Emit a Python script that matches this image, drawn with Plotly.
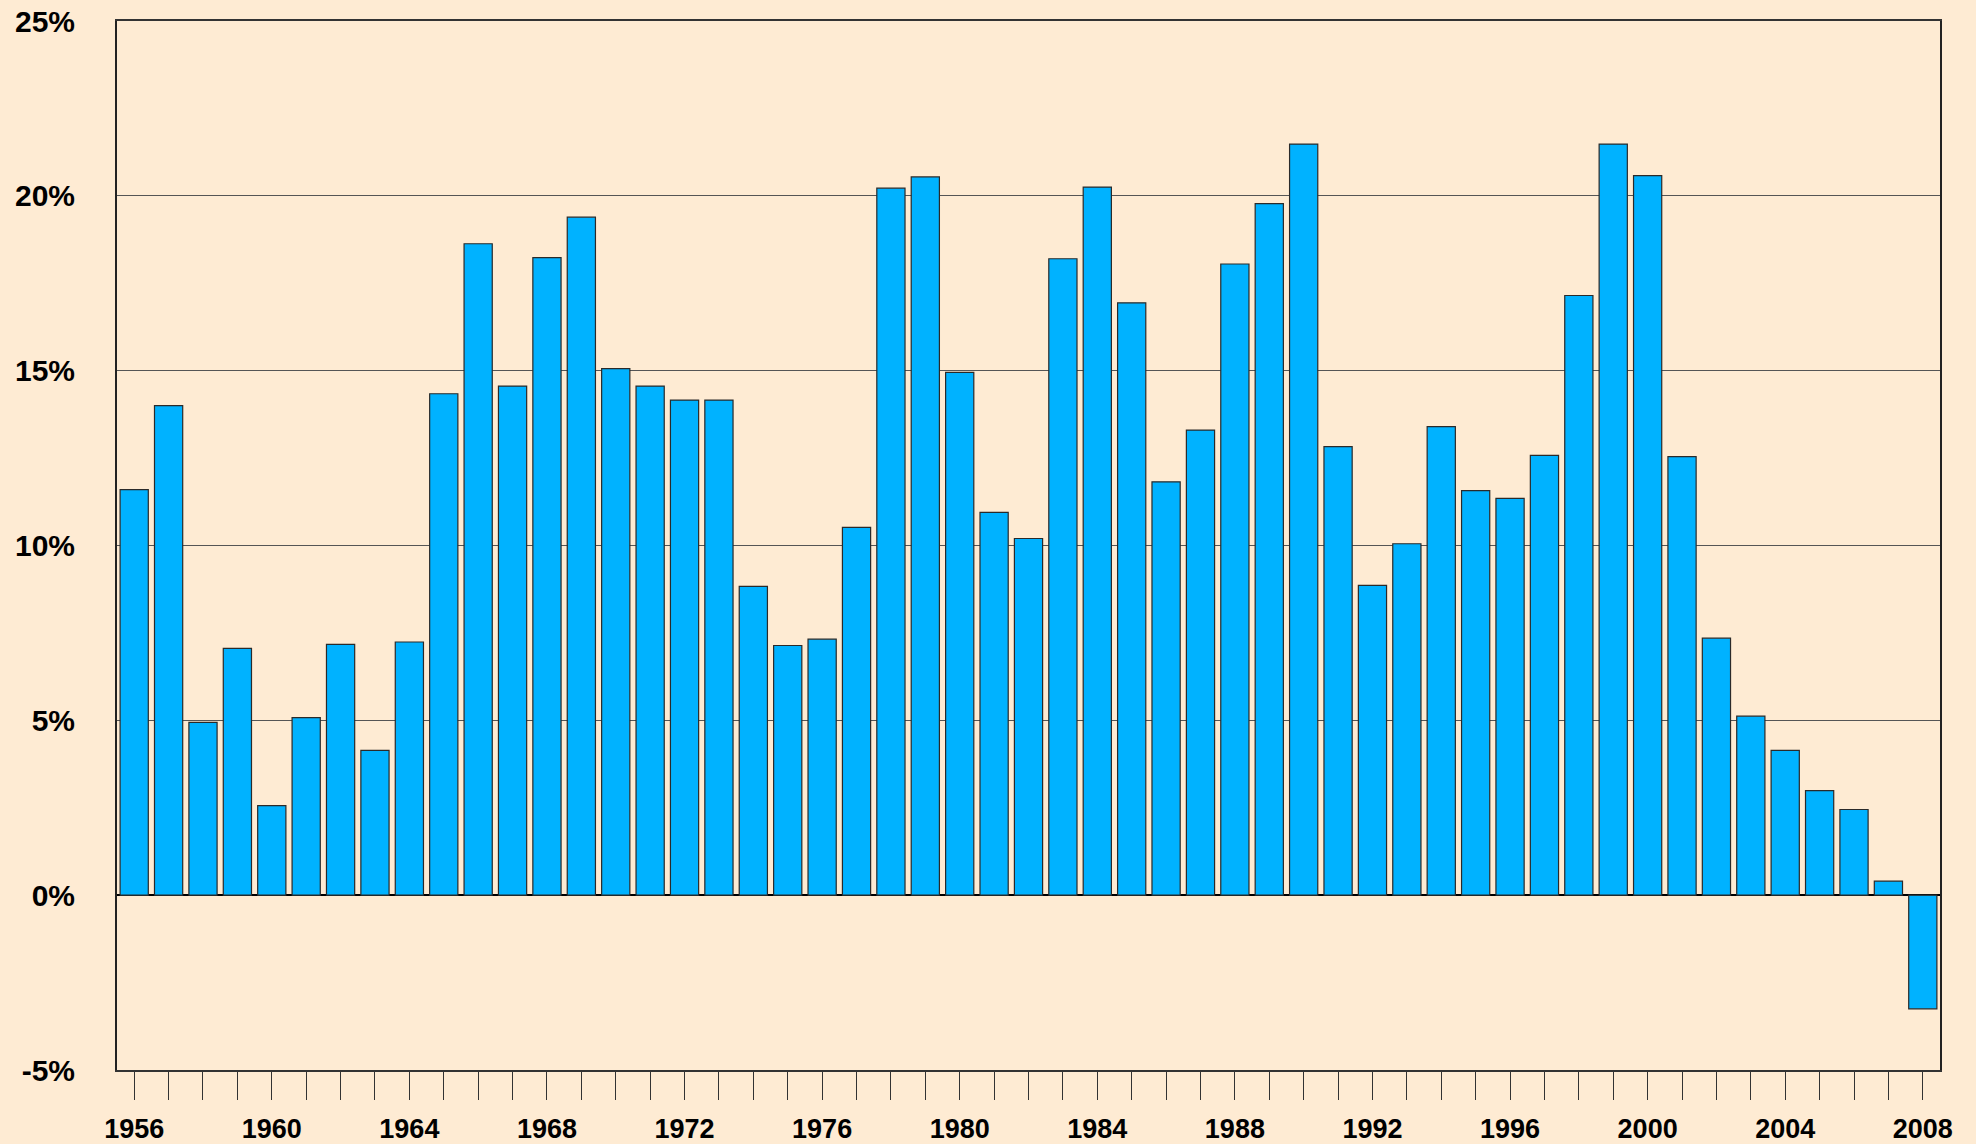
import plotly.graph_objects as go

years = list(range(1956, 2009))
values = [11.6, 14.0, 4.94, 7.06, 2.56, 5.08, 7.17, 4.14, 7.24, 14.34,
          18.63, 14.56, 18.23, 19.39, 15.06, 14.56, 14.16, 14.16, 8.83, 7.14,
          7.32, 10.52, 20.22, 20.54, 14.95, 10.95, 10.2, 18.2, 20.25, 16.94,
          11.82, 13.3, 18.05, 19.78, 21.48, 12.83, 8.86, 10.05, 13.4, 11.57,
          11.35, 12.58, 17.15, 21.48, 20.58, 12.54, 7.35, 5.12, 4.14, 2.99,
          2.45, 0.40, -3.25]
tick_labels = [str(y) if (y - 1956) % 4 == 0 else "" for y in years]
y_ticks = [-5, 0, 5, 10, 15, 20, 25]
y_tick_labels = [f"{v}%" for v in y_ticks]

bg = "#FEEBD3"
font_family = "Liberation Sans, Arial, sans-serif"

fig = go.Figure()
fig.add_trace(go.Bar(
    x=years, y=values,
    marker=dict(color="#00B2FF", line=dict(color="#2a2a2a", width=1.2)),
    width=0.82,
))

fig.update_layout(
    width=1976, height=1144,
    margin=dict(l=117, r=36, t=21, b=74),
    paper_bgcolor=bg, plot_bgcolor=bg,
    showlegend=False,
    font=dict(family=font_family, color="black"),
)
fig.update_xaxes(
    range=[1955.5, 2008.5],
    tickmode="array", tickvals=years, ticktext=tick_labels,
    ticks="outside", ticklen=28, tickwidth=1.3, tickcolor="#333333",
    tickfont=dict(size=27, family=font_family, color="black", weight="bold"),
    ticklabelstandoff=6,
    showgrid=False,
    showline=True, linecolor="#333333", linewidth=2, mirror=True,
    zeroline=False, automargin=False,
)
fig.update_yaxes(
    range=[-5, 25],
    tickmode="array", tickvals=y_ticks, ticktext=y_tick_labels,
    ticks="",
    tickfont=dict(size=30, family=font_family, color="black", weight="bold"),
    ticklabelstandoff=34,
    showgrid=True, gridcolor="#555555", gridwidth=1,
    showline=True, linecolor="#222222", linewidth=2, mirror=True,
    zeroline=True, zerolinecolor="black", zerolinewidth=2,
    automargin=False,
)

fig.write_html(
    "out.html",
    config={"displayModeBar": False},
    post_script=(
        "document.body.style.margin='0';"
        "document.body.style.padding='0';"
        "document.body.style.overflow='hidden';"
        "document.body.style.background='" + bg + "';"
    ),
)
